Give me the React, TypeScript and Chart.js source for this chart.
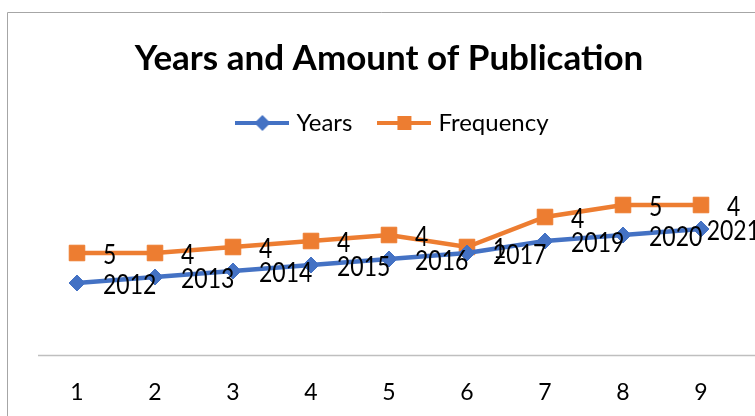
import React, { useEffect, useRef } from "react";
import { Chart, registerables } from "chart.js";

Chart.register(...registerables);

const categories = ["1", "2", "3", "4", "5", "6", "7", "8", "9"];
const yearsValues = [2012, 2013, 2014, 2015, 2016, 2017, 2019, 2020, 2021];
const frequencyValues = [5, 4, 4, 4, 4, 1, 4, 5, 4];
const seriesNames = ["Years", "Frequency"];
const titleText = "Years and Amount of Publication";
const yMin = 2000;
const pxPerUnit = 6;

const BLUE = "#4472C4";
const ORANGE = "#ED7D31";
const FONT = "Lato, 'Liberation Sans', sans-serif";

function makeLegendIcon(color: string, shape: "diamond" | "square") {
  const c = document.createElement("canvas");
  c.width = 54;
  c.height = 20;
  const ctx = c.getContext("2d")!;
  ctx.strokeStyle = color;
  ctx.lineWidth = 4;
  ctx.beginPath();
  ctx.moveTo(0, 10);
  ctx.lineTo(54, 10);
  ctx.stroke();
  ctx.fillStyle = color;
  if (shape === "diamond") {
    ctx.beginPath();
    ctx.moveTo(27, 2);
    ctx.lineTo(35, 10);
    ctx.lineTo(27, 18);
    ctx.lineTo(19, 10);
    ctx.closePath();
    ctx.fill();
  } else {
    ctx.fillRect(20, 3, 14, 14);
  }
  return c;
}

const framePlugin = {
  id: "frame",
  afterLayout(chart: any) {
    if (chart.legend) {
      chart.legend.left += 5.5;
      chart.legend.right += 5.5;
    }
  },
  beforeDraw(chart: any) {
    const { ctx, width, height, chartArea } = chart;
    ctx.save();
    ctx.fillStyle = "#ffffff";
    ctx.fillRect(0, 0, width, height);
    ctx.strokeStyle = "#a6a6a6";
    ctx.lineWidth = 1;
    ctx.beginPath();
    ctx.moveTo(7.5, height);
    ctx.lineTo(7.5, 12.5);
    ctx.lineTo(width, 12.5);
    ctx.stroke();
    ctx.strokeStyle = "#bfbfbf";
    ctx.lineWidth = 1.5;
    ctx.beginPath();
    ctx.moveTo(chartArea.left, Math.round(chartArea.bottom) + 0.5);
    ctx.lineTo(width, Math.round(chartArea.bottom) + 0.5);
    ctx.stroke();
    ctx.restore();
  },
};

const labelPlugin = {
  id: "pointLabels",
  afterDatasetsDraw(chart: any) {
    const { ctx } = chart;
    ctx.save();
    ctx.font = `23px ${FONT}`;
    ctx.fillStyle = "#000000";
    ctx.textBaseline = "middle";
    ctx.textAlign = "left";
    chart.data.datasets.forEach((ds: any, di: number) => {
      const meta = chart.getDatasetMeta(di);
      meta.data.forEach((pt: any, i: number) => {
        const text = String(ds.data[i]);
        const w = ctx.measureText(text).width;
        let x = pt.x + 26;
        if (x + w > chart.width + 5) x = chart.width + 5 - w;
        ctx.save();
        ctx.translate(x, pt.y + 2);
        ctx.scale(1, 1.18);
        ctx.fillText(text, 0, 0);
        ctx.restore();
      });
    });
    ctx.restore();
  },
};

export default function App() {
  const ref = useRef<HTMLCanvasElement | null>(null);

  useEffect(() => {
    if (!ref.current) return;
    const icons = [makeLegendIcon(BLUE, "diamond"), makeLegendIcon(ORANGE, "square")];
    const chart = new Chart(ref.current, {
      type: "line",
      data: {
        labels: categories,
        datasets: [
          {
            label: seriesNames[0],
            data: yearsValues,
            borderColor: BLUE,
            backgroundColor: BLUE,
            borderWidth: 4.5,
            pointStyle: "rectRot",
            pointRadius: 8,
            pointBorderWidth: 1,
            pointBorderColor: BLUE,
            pointBackgroundColor: BLUE,
            tension: 0,
            clip: false as any,
          },
          {
            label: seriesNames[1],
            data: frequencyValues,
            borderColor: ORANGE,
            backgroundColor: ORANGE,
            borderWidth: 4.5,
            pointStyle: "rect",
            pointRadius: 11,
            pointBorderWidth: 1,
            pointBorderColor: ORANGE,
            pointBackgroundColor: ORANGE,
            tension: 0,
            clip: false as any,
          },
        ],
      },
      options: {
        responsive: false,
        animation: false,
        devicePixelRatio: 1,
        layout: { padding: { top: 12, left: 38, right: 15, bottom: 0 } },
        scales: {
          x: {
            offset: true,
            grid: { display: false, drawTicks: false },
            border: { display: false },
            ticks: { color: "#000000", font: { family: FONT, size: 23 }, padding: 24 },
            afterFit: (scale: any) => {
              scale.height = 61;
            },
          },
          y: {
            display: false,
            stacked: true,
            bounds: "data",
            min: yMin,
            max: yMin + 35,
          },
        },
        plugins: {
          tooltip: { enabled: false },
          title: {
            display: true,
            text: titleText,
            color: "#000000",
            font: { family: FONT, size: 35, weight: "bold" },
            padding: { top: 26, bottom: 1 },
          },
          legend: {
            display: true,
            labels: {
              color: "#000000",
              font: { family: FONT, size: 24 },
              usePointStyle: true,
              pointStyleWidth: 44,
              padding: 30,
              generateLabels: (c: any) => {
                const items = (Chart.defaults.plugins.legend.labels as any).generateLabels(c);
                items.forEach((it: any, i: number) => {
                  it.pointStyle = icons[i];
                });
                return items;
              },
            },
          },
        },
      },
      plugins: [framePlugin, labelPlugin],
    });
    const area = chart.chartArea;
    (chart.options.scales as any).y.max = yMin + (area.bottom - area.top) / pxPerUnit;
    chart.update();
    return () => chart.destroy();
  }, []);

  return (
    <div style={{ position: "fixed", left: 0, top: 0, width: 755, height: 416, overflow: "hidden", background: "#fff" }}>
      <canvas ref={ref} width={755} height={416} style={{ display: "block" }} />
    </div>
  );
}
